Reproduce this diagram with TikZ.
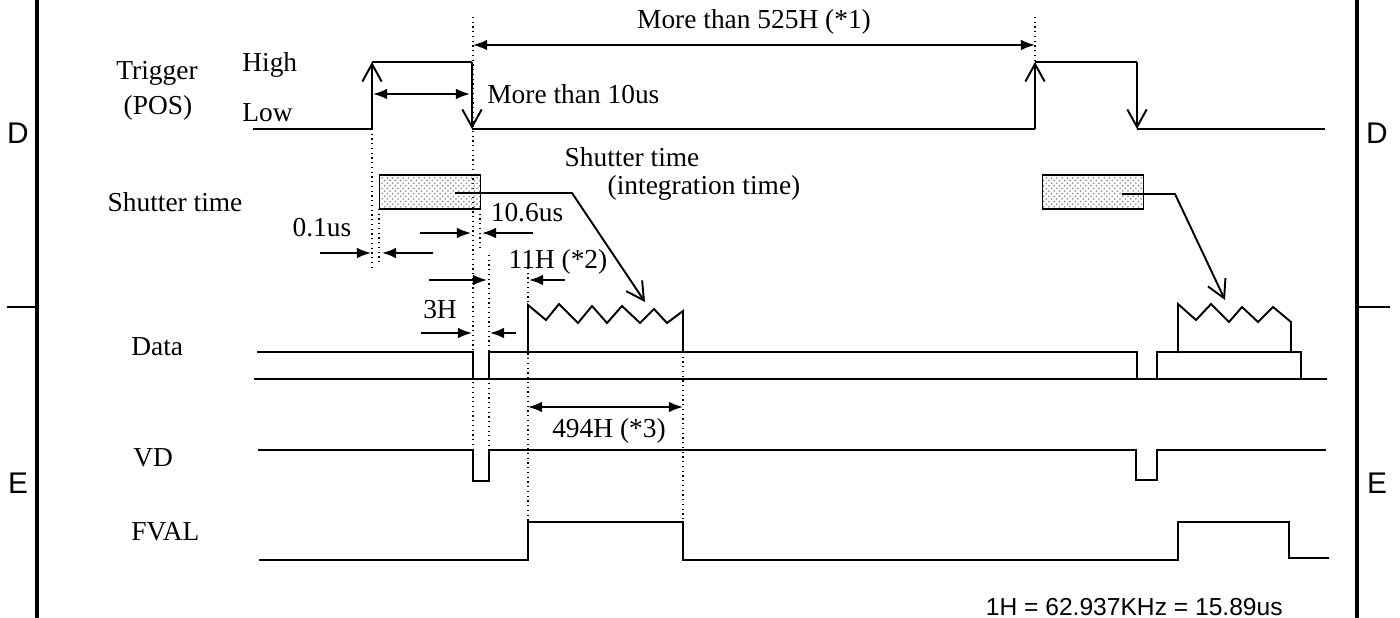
\documentclass[tikz,border=0pt]{standalone}
\usepackage{fontspec}
\setmainfont{Liberation Serif}
\setsansfont{Liberation Sans}
\usetikzlibrary{arrows.meta, patterns}

\begin{document}
\begin{tikzpicture}[
    x=0.02cm, y=-0.02cm,
    sig/.style={line width=1.1pt},
    frame/.style={line width=2.6pt},
    guide/.style={dotted, line width=0.7pt},
    dim/.style={-{Latex[length=8pt,width=6pt]}, line width=1pt},
    dimboth/.style={{Latex[length=8pt,width=6pt]}-{Latex[length=8pt,width=6pt]}, line width=1pt},
    edgearr/.style={-{Straight Barb[length=10pt,width=11pt]}, line width=1.1pt},
    lbl/.style={font=\fontsize{15.6}{18}\selectfont, inner sep=0},
    zone/.style={font=\sffamily\fontsize{17}{19}\selectfont, inner sep=0},
    shutbox/.style={draw, line width=1.1pt, pattern=crosshatch dots, pattern color=gray}]
  \useasboundingbox (0,0) rectangle (1400,618);
  % frame
  \draw[frame] (37,0) -- (37,618);
  \draw[frame] (1357,0) -- (1357,618);
  \draw[sig] (7,307) -- (37,307);
  \draw[sig] (1357,307) -- (1390,307);
  \node[zone] (dleft) at (18,133) {D};
  \node[zone] (eleft) at (18,483) {E};
  \node[zone] (dright) at (1377,133) {D};
  \node[zone] (eright) at (1377,483) {E};
  % signal names
  \node[lbl] (trig) at (157,73) {Trigger};
  \node[lbl] (pos) at (158,108) {(POS)};
  \node[lbl,anchor=west] (high) at (242,65) {High};
  \node[lbl,anchor=west] (low) at (242,113) {Low};
  \node[lbl] (shut) at (175,202) {Shutter time};
  \node[lbl,anchor=west] (data) at (131,347) {Data};
  \node[lbl,anchor=west] (vd) at (133,458) {VD};
  \node[lbl,anchor=west] (fval) at (131,532) {FVAL};
  % trigger
  \draw[sig] (253,129) -- (372,129);
  \draw[edgearr] (372,129) -- (372,62);
  \draw[sig] (372,62) -- (472,62);
  \draw[edgearr] (472,62) -- (472,129);
  \draw[sig] (472,129) -- (1035,129);
  \draw[edgearr] (1035,129) -- (1035,62);
  \draw[sig] (1035,62) -- (1137,62);
  \draw[edgearr] (1137,62) -- (1137,129);
  \draw[sig] (1137,129) -- (1325,129);
  % guides
  \draw[guide] (372,129) -- (372,270);
  \draw[guide] (379,209) -- (379,265);
  \draw[guide] (473,17) -- (473,450);
  \draw[guide] (480,209) -- (480,250);
  \draw[guide] (489,255) -- (489,450);
  \draw[guide] (528,268) -- (528,522);
  \draw[guide] (683,352) -- (683,522);
  \draw[guide] (1035,17) -- (1035,62);
  % shutter
  \node[shutbox, minimum width=2.02cm, minimum height=0.68cm] (sh1) at (430,192) {};
  \node[shutbox, minimum width=2.02cm, minimum height=0.68cm] (sh2) at (1093,192) {};
  \draw[edgearr] (455,193) -- (572,193) -- (645,302);
  \draw[edgearr] (1122,194) -- (1175,194) -- (1225,300);
  \node[lbl] (intg1) at (632,157) {Shutter time};
  \node[lbl] (intg2) at (704,188) {(integration time)};
  % data
  \draw[sig] (254,379) -- (1327,379);
  \draw[sig] (257,352) -- (473,352) -- (473,379);
  \draw[sig] (489,379) -- (489,352) -- (1137,352) -- (1137,379);
  \draw[sig] (1157,379) -- (1157,352) -- (1301,352) -- (1301,379);
  \draw[sig] (528,352) -- (528,305) -- (546,320) -- (559,304) -- (578,323) -- (592,306)
    -- (607,323) -- (622,306) -- (640,323) -- (654,309) -- (667,323) -- (683,311) -- (683,352);
  \draw[sig] (1178,353) -- (1178,304) -- (1196,320) -- (1211,304) -- (1229,322) -- (1242,307)
    -- (1258,322) -- (1273,307) -- (1291,322) -- (1291,353);
  % VD
  \draw[sig] (258,450) -- (473,450) -- (473,481) -- (489,481) -- (489,450) -- (1136,450)
    -- (1136,480) -- (1157,480) -- (1157,450) -- (1326,450);
  % FVAL
  \draw[sig] (259,560) -- (528,560) -- (528,522) -- (683,522) -- (683,560) -- (1178,560)
    -- (1178,522) -- (1289,522) -- (1289,558) -- (1329,558);
  % timings
  \draw[dimboth] (473,45) -- (1035,45);
  \node[lbl] (t525) at (754,22) {More than 525H (*1)};
  \draw[dimboth] (373,94) -- (470,94);
  \node[lbl,anchor=west] (t10) at (487,94) {More than 10us};
  \draw[dim] (320,253) -- (371,253);
  \draw[dim] (433,253) -- (382,253);
  \node[lbl] (t01) at (322,228) {0.1us};
  \draw[dim] (420,233) -- (471,233);
  \draw[dim] (533,233) -- (482,233);
  \node[lbl] (t106) at (527,213) {10.6us};
  \draw[dim] (429,280) -- (487,280);
  \draw[dim] (565,280) -- (529,280);
  \node[lbl] (t11) at (558,262) {11H (*2)};
  \draw[dim] (421,333) -- (472,333);
  \draw[dim] (516,333) -- (490,333);
  \node[lbl] (t3) at (440,310) {3H};
  \draw[dimboth] (528,407) -- (683,407);
  \node[lbl] (t494) at (609,431) {494H (*3)};
  \node[font=\sffamily\fontsize{14}{16}\selectfont, inner sep=0, anchor=east] (hnote) at (1283,607)
    {1H = 62.937KHz = 15.89us};
\end{tikzpicture}
\end{document}
